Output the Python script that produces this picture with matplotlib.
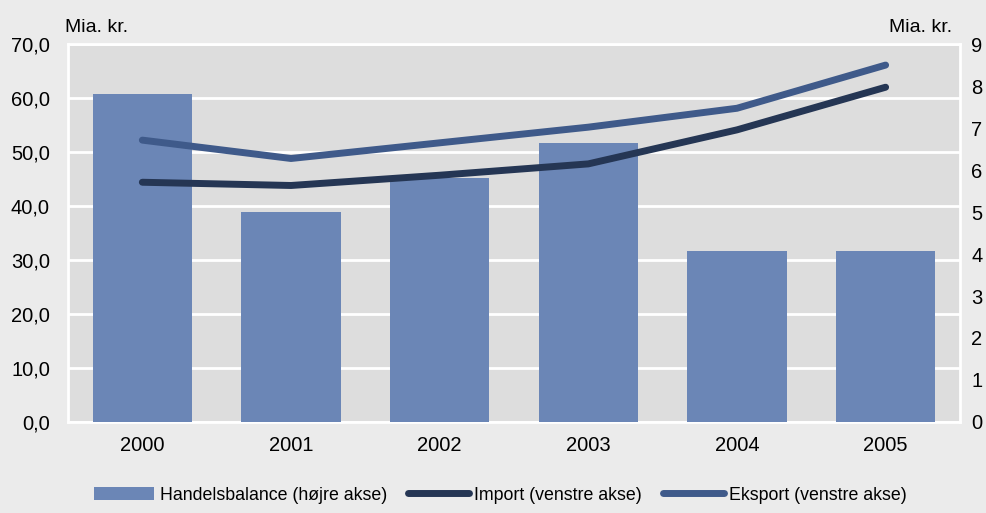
import matplotlib.pyplot as plt
from matplotlib.patches import Patch
from matplotlib.lines import Line2D

# data
aar = ['2000', '2001', '2002', '2003', '2004', '2005']
handelsbalance = [7.8, 5.0, 5.8, 6.65, 4.07, 4.07]   # right axis
import_ = [44.4, 43.8, 45.7, 47.8, 54.1, 62.0]        # left axis
eksport = [52.2, 48.8, 51.7, 54.6, 58.1, 66.1]        # left axis
venstre_ticks = [0, 10, 20, 30, 40, 50, 60, 70]
hoejre_ticks = [0, 1, 2, 3, 4, 5, 6, 7, 8, 9]

plt.rcParams['font.family'] = ['Liberation Sans', 'DejaVu Sans']
plt.rcParams['font.size'] = 14.5

bar_farve = '#6b86b6'
import_farve = '#253654'
eksport_farve = '#3f5a8a'

fig = plt.figure(figsize=(9.87, 5.13), dpi=100, facecolor='#ebebeb')
ax = fig.add_axes([0.0689, 0.1774, 0.9037, 0.7368])
ax.set_facecolor('#dddddd')
x = list(range(len(aar)))

# bagerste lag: grid paa venstre akse
ax.set_ylim(0, 70)
ax.set_yticks(venstre_ticks)
ax.set_yticklabels([f'{v:.1f}'.replace('.', ',') for v in venstre_ticks])
ax.set_xlim(-0.5, 5.5)
ax.set_xticks(x)
ax.set_xticklabels(aar)
ax.grid(axis='y', color='white', linewidth=2)
ax.set_axisbelow(True)
ax.tick_params(length=0, pad=13)
ax.tick_params(axis='x', pad=10)
for s in ax.spines.values():
    s.set_color('white')
    s.set_linewidth(2)

# bjaelker paa hoejre akse
ax2 = ax.twinx()
ax2.bar(x, handelsbalance, width=0.67, color=bar_farve, zorder=2)
ax2.set_ylim(0, 9)
ax2.set_yticks(hoejre_ticks)
ax2.set_yticklabels([str(v) for v in hoejre_ticks])
ax2.tick_params(length=0, pad=8)
for s in ax2.spines.values():
    s.set_visible(False)

# linjer paa venstre akse, oeverst
ax3 = ax.twinx()
ax3.set_ylim(0, 70)
ax3.set_xlim(-0.5, 5.5)
ax3.plot(x, import_, color=import_farve, linewidth=5, solid_capstyle='round', solid_joinstyle='round')
ax3.plot(x, eksport, color=eksport_farve, linewidth=5, solid_capstyle='round', solid_joinstyle='round')
ax3.set_yticks([])
for s in ax3.spines.values():
    s.set_visible(False)

fig.text(0.066, 0.93, 'Mia. kr.', ha='left', va='bottom', fontsize=14)
fig.text(0.965, 0.93, 'Mia. kr.', ha='right', va='bottom', fontsize=14)

handles = [
    Patch(facecolor=bar_farve),
    Line2D([0], [0], color=import_farve, linewidth=5, solid_capstyle='round'),
    Line2D([0], [0], color=eksport_farve, linewidth=5, solid_capstyle='round'),
]
labels = ['Handelsbalance (højre akse)', 'Import (venstre akse)', 'Eksport (venstre akse)']
fig.legend(handles, labels, loc='center', bbox_to_anchor=(0.507, 0.035), ncol=3,
           frameon=False, handlelength=3.4, handletextpad=0.3, columnspacing=1.2,
           handleheight=0.7, fontsize=12.8)

fig.savefig('out.png', dpi=100, facecolor=fig.get_facecolor())
